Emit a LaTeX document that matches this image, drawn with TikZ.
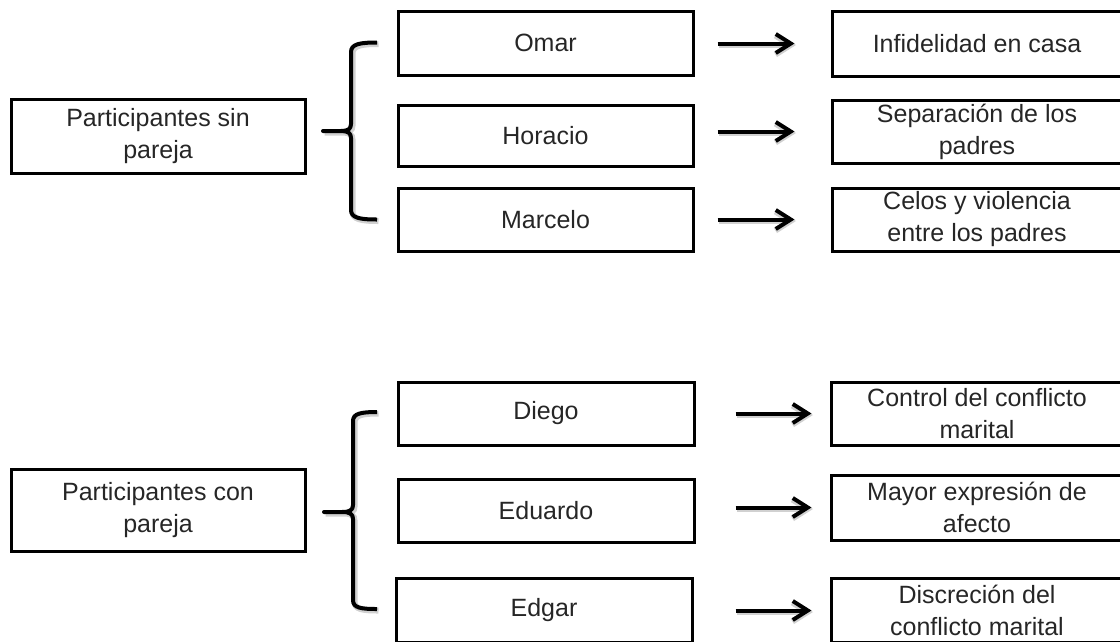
\documentclass[tikz,border=0pt]{standalone}
\usepackage{fontspec}
\setmainfont{Liberation Sans}
\usetikzlibrary{arrows.meta}
\begin{document}
\begin{tikzpicture}[x=1pt,y=-1pt,
  box/.style={draw, line width=3pt, rectangle, inner sep=0pt, align=center,
    text=black!85, font=\fontsize{25}{32}\selectfont},
  arr/.style={line width=4pt, -{Straight Barb[length=15pt,width=19pt]},
    preaction={draw=black!18, line width=6pt, transform canvas={xshift=1.5pt,yshift=-1.5pt}}},
  bracepath/.style={line width=4pt, line join=round,
    preaction={draw=black!18, line width=6pt, transform canvas={xshift=1.5pt,yshift=-1.5pt}}}]
\useasboundingbox (0,0) rectangle (1120,641);
\clip (0,0) rectangle (1120,641);

% ---------- top group ----------
\node[box, minimum width=294, minimum height=74] (sin) at (158,136) {Participantes sin\\pareja};
\node[box, minimum width=295, minimum height=64] (omar) at (545.5,43) {Omar};
\node[box, minimum width=295, minimum height=61] (horacio) at (545.5,135.5) {Horacio};
\node[box, minimum width=295, minimum height=63] (marcelo) at (545.5,219.5) {Marcelo};
\node[box, minimum width=290, minimum height=65] (inf) at (977,43.5) {Infidelidad en casa};
\node[box, minimum width=290, minimum height=63] (sep) at (977,131.5) {Separación de los\\padres};
\node[box, minimum width=290, minimum height=63] (celos) at (977,219.5) {Celos y violencia\\entre los padres};

\draw[arr, shorten <=23pt, shorten >=36pt] (omar.east |- inf.west) -- (inf.west);
\draw[arr, shorten <=23pt, shorten >=36pt] (horacio.east |- sep.west) -- (sep.west);
\draw[arr, shorten <=23pt, shorten >=36pt] (marcelo.east |- celos.west) -- (celos.west);

\coordinate (bt1) at (377,42.5);
\coordinate (bm1) at (323,131);
\coordinate (bb1) at (377,219.5);
\draw[bracepath] (bt1) .. controls (360,42.5) and (351,44) .. (351,52)
  -- (351,124) .. controls (351,129) and (348,131) .. (341,131) -- (bm1)
  -- (341,131) .. controls (348,131) and (351,133) .. (351,138)
  -- (351,210) .. controls (351,218) and (360,219.5) .. (bb1);

% ---------- bottom group ----------
\node[box, minimum width=294, minimum height=82] (con) at (158,510) {Participantes con\\pareja};
\node[box, minimum width=296, minimum height=63] (diego) at (546,413.5) {Diego};
\node[box, minimum width=296, minimum height=63] (eduardo) at (546,510.5) {Eduardo};
\node[box, minimum width=296, minimum height=64] (edgar) at (544,610.5) {Edgar};
\node[box, minimum width=292, minimum height=63] (control) at (977,413.5) {Control del conflicto\\marital};
\node[box, minimum width=292, minimum height=65] (mayor) at (977,507.5) {Mayor expresión de\\afecto};
\node[box, minimum width=292, minimum height=64] (disc) at (977,610.5) {Discreción del\\conflicto marital};

\draw[arr, shorten <=40pt, shorten >=18pt] (diego.east |- control.west) -- (control.west);
\draw[arr, shorten <=40pt, shorten >=18pt] (eduardo.east |- mayor.west) -- (mayor.west);
\draw[arr, shorten <=42pt, shorten >=18pt] (edgar.east |- disc.west) -- (disc.west);

\coordinate (bt2) at (377,412);
\coordinate (bm2) at (324,512);
\coordinate (bb2) at (377,609);
\draw[bracepath] (bt2) .. controls (361,412) and (353,413.5) .. (353,421)
  -- (353,505) .. controls (353,510) and (350,512) .. (342,512) -- (bm2)
  -- (342,512) .. controls (350,512) and (353,514) .. (353,519)
  -- (353,600) .. controls (353,608) and (361,609) .. (bb2);
\end{tikzpicture}
\end{document}
